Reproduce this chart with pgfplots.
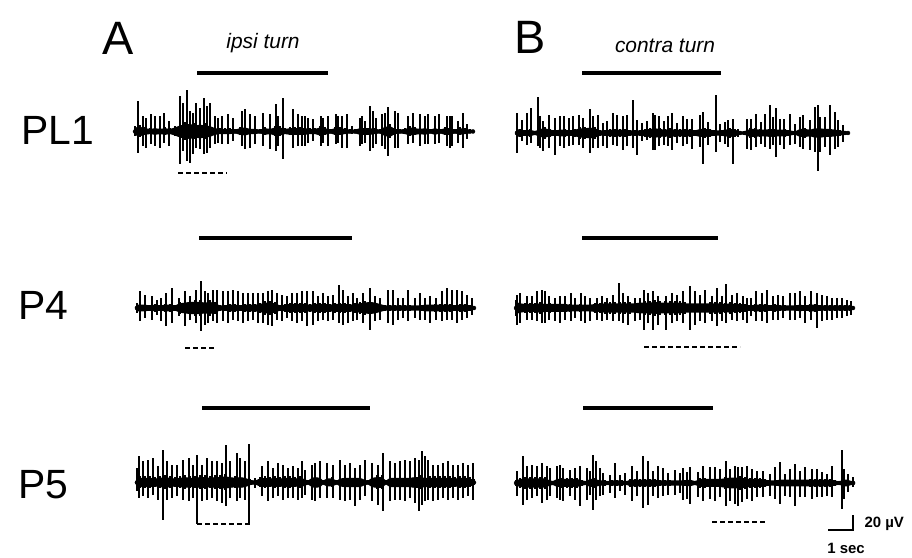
\documentclass[border=0pt]{standalone}
\usepackage{pgfplots}
\pgfplotsset{compat=1.18}
\usepgfplotslibrary{fillbetween}
\usepackage{pgfplotstable}
\usepackage{fontspec}
\setmainfont{Liberation Sans}

% ---- unit recordings: x in px along the sweep, envelope half-height h, spike excursions up/dn ----
% PL1, ipsi turn
\pgfplotstableread[row sep=\\]{x h\\135 5\\140 6\\145 4\\150 3\\155 4\\160 3\\165 4\\170 3\\175 5\\180 8\\185 9\\190 10\\195 8\\200 9\\205 8\\210 7\\215 4\\220 3\\225 3\\230 3\\235 2\\240 4\\245 5\\250 3\\255 3\\260 2\\265 4\\270 3\\275 5\\280 5\\285 3\\290 4\\295 4\\300 4\\305 4\\310 3\\315 3\\320 5\\325 4\\330 2\\335 4\\340 4\\345 3\\350 2\\355 2\\360 4\\365 4\\370 4\\375 3\\380 2\\385 6\\390 7\\395 3\\400 2\\405 3\\410 5\\415 4\\420 3\\425 4\\430 2\\435 4\\440 2\\445 4\\450 4\\455 2\\460 4\\465 3\\470 2\\473 1\\}\envPLa
\pgfplotstableread[row sep=\\]{x up dn\\138 30 22\\143 15 15\\146 13 17\\151 17 13\\155 15 15\\160 15 17\\164 18 12\\169 10 15\\180 35 33\\183 28 20\\187 41 30\\190 20 32\\193 18 23\\196 28 17\\200 23 18\\204 33 23\\207 25 22\\210 28 17\\215 15 13\\218 13 12\\222 15 13\\228 17 13\\233 13 10\\242 20 15\\245 22 18\\250 17 17\\255 15 13\\263 18 15\\270 17 18\\276 27 20\\278 15 15\\283 33 28\\293 22 17\\298 17 15\\302 15 15\\305 15 15\\308 13 12\\313 12 10\\321 15 15\\323 13 12\\328 15 15\\336 17 13\\338 15 12\\342 15 17\\347 17 17\\352 5 3\\360 13 15\\362 15 13\\365 10 12\\370 25 20\\373 20 17\\376 13 13\\382 17 15\\385 18 18\\388 24 25\\395 20 17\\398 18 17\\408 15 13\\413 18 12\\420 17 15\\425 15 13\\428 17 13\\435 15 13\\439 17 12\\447 15 15\\450 15 17\\452 15 15\\458 10 12\\463 18 17\\467 7 8\\}\spkPLa
% PL1, contra turn
\pgfplotstableread[row sep=\\]{x h\\517 5\\520 4\\525 3\\530 4\\535 2\\540 5\\545 6\\550 4\\555 3\\560 4\\565 4\\570 3\\575 4\\580 6\\585 6\\590 7\\595 6\\600 3\\605 3\\610 4\\615 4\\620 4\\625 4\\630 3\\635 3\\640 3\\645 4\\650 5\\655 6\\660 5\\665 4\\670 5\\675 4\\680 4\\685 4\\690 4\\695 3\\700 5\\705 5\\710 4\\715 3\\720 3\\725 4\\730 5\\735 4\\740 1.5\\745 2\\750 5\\755 5\\760 4\\765 4\\770 5\\775 4\\780 4\\785 4\\790 3\\795 1.5\\800 5\\805 5\\810 4\\815 6\\820 6\\825 5\\830 5\\835 4\\840 3\\845 2\\848 1\\}\envPLb
\pgfplotstableread[row sep=\\]{x up dn\\517 20 20\\522 13 8\\527 20 12\\531 25 10\\538 36 13\\540 17 15\\543 12 18\\549 18 15\\555 15 22\\560 17 13\\564 17 15\\569 15 13\\573 17 12\\579 18 12\\583 15 15\\590 24 20\\593 17 15\\598 18 15\\603 10 13\\607 12 15\\613 20 12\\617 18 13\\623 17 17\\627 18 13\\633 33 15\\637 13 22\\642 10 8\\647 12 7\\653 20 17\\655 18 17\\659 17 13\\664 12 12\\668 17 13\\672 20 17\\677 10 10\\683 17 13\\687 14 11\\692 14 16\\700 18 14\\703 21 31\\708 11 12\\716 38 19\\720 9 9\\725 11 11\\728 13 14\\733 14 31\\738 4 4\\747 14 16\\751 14 17\\756 19 14\\761 11 11\\765 19 14\\770 28 16\\773 16 12\\776 25 24\\780 14 12\\784 14 16\\790 19 12\\795 9 11\\800 16 14\\803 18 16\\810 13 17\\815 26 19\\818 28 38\\820 16 19\\825 16 14\\830 28 22\\835 21 16\\838 13 14\\843 8 9\\}\spkPLb
% P4, ipsi turn
\pgfplotstableread[row sep=\\]{x h\\137 4\\140 4\\145 4\\150 3\\155 4\\160 3\\165 4\\170 4\\175 3\\180 6\\185 7\\190 8\\195 8\\200 8\\205 7\\210 8\\215 6\\220 3\\225 3\\230 4\\235 4\\240 3\\245 4\\250 4\\255 4\\260 5\\265 7\\270 7\\275 6\\280 3\\285 4\\290 5\\295 5\\300 5\\305 5\\310 4\\315 5\\320 5\\325 5\\330 4\\335 5\\340 5\\345 5\\350 4\\355 5\\360 6\\365 7\\370 8\\375 7\\380 5\\385 3\\390 3\\395 3\\400 3\\405 3\\410 3\\415 3\\420 3\\425 4\\430 4\\435 4\\440 4\\445 4\\450 4\\455 3\\460 4\\465 4\\470 3\\474 2\\}\envPFa
\pgfplotstableread[row sep=\\]{x up dn\\137 5 5\\140 17 13\\145 13 10\\152 12 12\\157 8 7\\161 10 13\\166 15 18\\172 20 15\\179 10 8\\185 17 18\\190 12 12\\196 18 15\\201 27 23\\205 17 17\\208 15 15\\213 18 13\\217 18 15\\223 17 13\\228 17 15\\233 18 12\\238 17 13\\243 15 15\\248 15 13\\253 15 12\\258 15 15\\263 15 15\\268 17 17\\272 18 18\\277 15 12\\282 13 13\\287 12 10\\292 15 13\\297 15 15\\302 17 13\\307 17 18\\313 17 17\\318 12 13\\323 15 12\\328 12 13\\333 13 12\\339 23 15\\343 18 17\\348 12 15\\353 15 13\\357 10 12\\363 15 15\\370 20 22\\375 12 13\\380 10 12\\388 18 15\\393 18 17\\398 10 12\\403 10 10\\408 18 13\\415 10 10\\420 15 12\\425 10 12\\430 12 15\\436 10 12\\442 17 13\\447 20 12\\452 18 12\\457 18 15\\462 17 12\\467 13 10\\472 10 7\\}\spkPFa
% P4, contra turn
\pgfplotstableread[row sep=\\]{x h\\516 8\\520 6\\525 5\\530 5\\535 5\\540 6\\545 5\\550 5\\555 5\\560 5\\565 5\\570 4\\575 4\\580 4\\585 4\\590 4\\595 5\\600 5\\605 6\\610 6\\615 6\\620 6\\625 6\\630 6\\635 6\\640 7\\645 7\\650 7\\655 8\\660 7\\665 7\\670 7\\675 7\\680 7\\685 6\\690 6\\695 6\\700 6\\705 6\\710 6\\715 6\\720 6\\725 5\\730 6\\735 5\\740 5\\745 4\\750 3\\755 4\\760 4\\765 4\\770 3\\775 4\\780 3\\785 3\\790 3\\795 3\\800 4\\805 3\\810 4\\815 4\\820 3\\825 3\\830 3\\835 3\\840 3\\845 3\\850 3\\853 2\\}\envPFb
\pgfplotstableread[row sep=\\]{x up dn\\517 13 17\\520 15 15\\527 12 12\\532 12 12\\537 17 13\\542 18 15\\545 17 15\\549 12 12\\555 10 13\\560 12 15\\565 12 12\\571 15 13\\575 10 10\\581 15 13\\585 12 15\\590 10 13\\597 10 12\\602 12 13\\607 10 12\\613 13 13\\619 25 13\\623 15 15\\628 12 17\\635 10 13\\640 10 12\\644 18 22\\648 15 15\\653 17 22\\658 12 17\\666 12 22\\672 15 15\\677 13 13\\683 17 15\\690 22 22\\695 17 17\\700 13 13\\705 18 15\\712 12 13\\717 20 18\\722 12 13\\726 24 15\\732 13 12\\737 15 13\\743 12 12\\747 10 15\\751 10 8\\756 17 13\\762 15 13\\767 18 15\\773 12 12\\778 13 12\\783 12 10\\790 15 12\\795 15 12\\800 17 10\\805 12 15\\811 17 12\\817 15 20\\822 13 13\\827 12 12\\832 10 12\\837 10 10\\842 10 10\\847 8 8\\851 7 7\\}\spkPFb
% P5, ipsi turn
\pgfplotstableread[row sep=\\]{x h\\137 4\\140 6\\145 6\\150 6\\155 5\\160 6\\165 7\\170 6\\175 5\\180 6\\185 7\\190 6\\195 6\\200 7\\205 7\\210 6\\215 7\\220 7\\225 8\\230 7\\235 6\\240 7\\245 6\\250 3\\255 2\\260 5\\265 6\\270 5\\275 6\\280 5\\285 6\\290 6\\295 5\\300 6\\305 4\\308 2\\312 6\\315 7\\320 6\\323 2\\327 5\\332 5\\337 2\\340 5\\345 6\\350 6\\355 6\\360 6\\365 3\\368 2\\372 6\\377 7\\382 7\\386 2\\390 6\\395 6\\400 6\\405 6\\410 6\\415 7\\420 7\\425 6\\430 6\\435 6\\440 6\\445 6\\450 6\\455 5\\460 6\\465 6\\470 5\\474 3\\}\envPVa
\pgfplotstableread[row sep=\\]{x up dn\\137 14 9\\139 26 16\\143 21 14\\148 22 16\\153 24 13\\158 16 18\\163 32 38\\167 21 18\\172 17 16\\177 17 14\\183 22 18\\189 24 19\\193 17 16\\197 27 42\\202 17 19\\207 24 18\\212 21 16\\217 21 19\\222 19 21\\226 37 24\\230 21 16\\237 29 19\\240 24 16\\245 21 18\\249 38 42\\255 4 6\\262 16 14\\268 21 19\\273 14 16\\278 19 14\\283 17 18\\288 14 16\\293 16 16\\298 14 18\\302 21 16\\305 12 13\\312 17 18\\315 19 19\\320 21 16\\327 19 16\\333 17 16\\340 22 18\\345 17 19\\350 19 18\\355 14 24\\360 17 18\\365 22 14\\372 19 19\\378 17 23\\383 29 29\\390 21 19\\395 19 18\\400 21 18\\405 22 19\\410 21 16\\415 24 21\\419 22 29\\422 31 23\\425 26 19\\428 22 18\\433 17 19\\438 17 18\\443 19 16\\448 21 18\\453 17 16\\458 17 18\\463 19 16\\468 17 14\\473 19 18\\}\spkPVa
% P5, contra turn
\pgfplotstableread[row sep=\\]{x h\\516 3\\520 5\\525 6\\530 6\\535 6\\540 6\\545 6\\550 3\\553 2\\557 5\\562 5\\567 5\\572 5\\577 5\\582 3\\586 2\\590 5\\595 5\\600 3\\605 3\\608 1.5\\612 3\\617 3\\622 3\\626 1.5\\630 4\\635 4\\640 4\\645 4\\650 4\\655 4\\660 3\\665 3\\670 3\\675 3\\680 3\\685 3\\690 4\\695 2\\700 5\\705 5\\710 5\\715 5\\720 5\\725 6\\730 7\\735 7\\740 7\\745 6\\750 5\\755 5\\760 5\\765 4\\770 3\\775 3\\780 4\\785 4\\790 4\\795 4\\800 4\\805 4\\810 4\\815 4\\820 4\\825 4\\830 4\\835 3\\839 1.5\\843 4\\848 4\\851 2\\853 1.5\\}\envPVb
\pgfplotstableread[row sep=\\]{x up dn\\517 12 13\\523 27 22\\527 17 17\\532 18 15\\537 17 13\\542 20 20\\547 17 17\\550 15 13\\557 17 15\\560 18 17\\563 15 18\\570 13 13\\575 15 17\\580 17 23\\587 15 17\\590 12 12\\593 28 27\\596 22 17\\600 15 13\\603 10 12\\610 8 10\\615 20 15\\620 8 8\\625 10 12\\632 17 18\\637 12 13\\643 27 25\\648 22 22\\653 12 13\\658 17 15\\663 15 13\\668 10 12\\675 13 12\\680 10 10\\683 15 17\\687 11 16\\690 16 21\\698 11 14\\703 17 18\\710 16 16\\715 16 18\\720 14 14\\726 22 23\\730 14 18\\735 17 21\\738 16 23\\742 16 19\\747 17 16\\752 14 18\\757 12 14\\763 12 14\\770 9 13\\775 16 16\\780 21 21\\785 9 13\\790 14 14\\795 19 23\\800 12 14\\805 16 14\\812 14 16\\817 14 14\\822 11 14\\827 9 13\\832 17 14\\842 33 26\\844 14 16\\848 9 9\\853 6 4\\}\spkPVb

% one sweep: #1 baseline, #2 envelope table, #3 spike table, #4 path name
\newcommand{\sweep}[4]{%
  % dense core of the sweep
  \addplot[draw=none, name path=#4u, forget plot] table[x=x, y expr={#1-0.7*\thisrow{h}-0.5}] {#2};
  \addplot[draw=none, name path=#4l, forget plot] table[x=x, y expr={#1+0.7*\thisrow{h}+0.5}] {#2};
  \addplot[black, forget plot] fill between[of=#4u and #4l];
  % bursts of small spikes
  \addplot[only marks, mark=none, forget plot,
    error bars/.cd, y dir=both, y explicit, error mark=none,
    error bar style={line width=2.6bp, black}]
    table[x=x, y expr={#1}, y error plus=h, y error minus=h] {#2};
  % large spikes
  \addplot[only marks, mark=none, forget plot,
    error bars/.cd, y dir=both, y explicit, error mark=none,
    error bar style={line width=1.4bp, black}]
    table[x=x, y expr={#1}, y error plus=dn, y error minus=up] {#3};
}

\begin{document}
\begin{tikzpicture}
\begin{axis}[
  scale only axis, width=912bp, height=558bp,
  xmin=0, xmax=912, ymin=0, ymax=558, y dir=reverse,
  hide axis, clip=false]

% recordings
\sweep{131.5}{\envPLa}{\spkPLa}{pla}
\sweep{133}{\envPLb}{\spkPLb}{plb}
\sweep{308}{\envPFa}{\spkPFa}{pfa}
\sweep{308}{\envPFb}{\spkPFb}{pfb}
\sweep{482.5}{\envPVa}{\spkPVa}{pva}
\sweep{483}{\envPVb}{\spkPVb}{pvb}

% turn duration bars
\addplot[black, line width=4bp] coordinates {(197,73) (328,73)};
\addplot[black, line width=4bp] coordinates {(582,73) (721,73)};
\addplot[black, line width=4bp] coordinates {(199,238) (352,238)};
\addplot[black, line width=4bp] coordinates {(582,238) (718,238)};
\addplot[black, line width=4bp] coordinates {(202,408) (370,408)};
\addplot[black, line width=4bp] coordinates {(583,408) (713,408)};

% dashed markers under the sweeps
\addplot[black, line width=1.6bp, dash pattern=on 5bp off 3bp] coordinates {(178,173) (227,173)};
\addplot[black, line width=1.6bp, dash pattern=on 5bp off 3bp] coordinates {(185,348) (216,348)};
\addplot[black, line width=1.6bp, dash pattern=on 5bp off 3bp] coordinates {(197,524) (250,524)};
\addplot[black, line width=1.6bp, dash pattern=on 5bp off 3bp] coordinates {(644,347) (740,347)};
\addplot[black, line width=1.6bp, dash pattern=on 5bp off 3bp] coordinates {(712,522) (767,522)};

% calibration
\addplot[black, line width=1.8bp] coordinates {(828,530) (853,530) (853,515)};

\node[font=\fontsize{47}{47}\selectfont] at (axis cs:118,38) {A};
\node[font=\fontsize{47}{47}\selectfont] at (axis cs:530,37) {B};
\node[font=\fontsize{21}{21}\selectfont\itshape] at (axis cs:263,43) {ipsi turn};
\node[font=\fontsize{21}{21}\selectfont\itshape] at (axis cs:665,46) {contra turn};
\node[font=\fontsize{41}{41}\selectfont] at (axis cs:58,130) {PL1};
\node[font=\fontsize{41}{41}\selectfont] at (axis cs:43,305) {P4};
\node[font=\fontsize{41}{41}\selectfont] at (axis cs:43,485) {P5};
\node[font=\fontsize{15}{15}\selectfont\bfseries, anchor=west] at (axis cs:861,524) {20 µV};
\node[font=\fontsize{15}{15}\selectfont\bfseries] at (axis cs:846,548) {1 sec};
\end{axis}
\pgfresetboundingbox
\useasboundingbox (current axis.south west) rectangle (current axis.north east);
\end{tikzpicture}
\end{document}
